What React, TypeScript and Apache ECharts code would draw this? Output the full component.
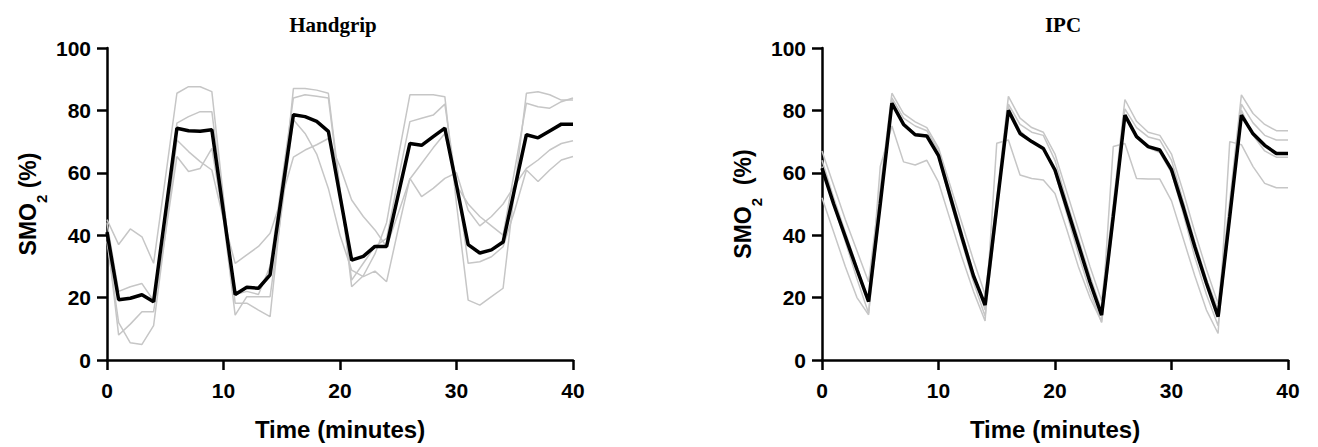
import React, { useEffect, useRef } from "react";
import * as echarts from "echarts";

const minutes = [0, 1, 2, 3, 4, 5, 6, 7, 8, 9, 10, 11, 12, 13, 14, 15, 16, 17, 18, 19, 20, 21, 22, 23, 24, 25, 26, 27, 28, 29, 30, 31, 32, 33, 34, 35, 36, 37, 38, 39, 40];
const xTicks = [0, 10, 20, 30, 40];
const yTicks = [0, 20, 40, 60, 80, 100];

// Handgrip — mean (black) and individual (grey) traces
const handgripMean = [41, 19.3, 19.8, 20.9, 18.7, 46.5, 74.3, 73.5, 73.3, 73.8, 47.4, 21, 23.3, 23, 27.3, 53, 78.6, 78, 76.5, 73.3, 52.6, 32, 33.2, 36.4, 36.4, 53, 69.4, 68.8, 71.6, 74.3, 56, 37, 34.3, 35.3, 37.8, 55, 72.2, 71.2, 73.4, 75.6, 75.6];
const handgripS1 = [45, 37, 42, 39.5, 31, 58, 85.5, 87.6, 87.6, 86, 52, 18.2, 18.2, 16, 13.9, 50, 87, 87, 86.5, 85.5, 55, 23.5, 27, 34, 44, 65, 85, 85, 85, 84.4, 50, 19.2, 17.6, 20.3, 23, 55, 85.5, 86, 85, 83.3, 83.3];
const handgripS2 = [44, 22, 23.5, 24.5, 19, 47, 75.9, 78, 79.6, 79.6, 50, 21, 22, 21, 30, 57, 84, 85, 84.5, 84, 54, 25.6, 31, 36.4, 39, 58, 76.4, 77.5, 78.5, 82, 56, 50, 46, 43, 40, 61, 82.3, 81.2, 80.7, 82.8, 84];
const handgripS3 = [40, 8, 11.5, 15.5, 15.5, 40, 65.2, 60.4, 61.4, 67.8, 45, 14.4, 20.3, 20.3, 20.3, 48, 77, 72.6, 66, 55, 40, 28.8, 26.7, 28.5, 25.1, 42, 58.2, 52.4, 55, 58.2, 60, 48, 43, 46, 50, 56, 61.4, 64.1, 67.3, 69.4, 70.3];
const handgripS4 = [38, 12, 5.5, 5, 11, 40, 70.5, 66.8, 63.6, 60.9, 45, 31, 33.7, 36.4, 40.6, 52, 65, 67.3, 69, 71, 62, 51.3, 46, 41.7, 36.3, 47, 58, 63, 68, 72.6, 58, 31, 31.5, 33.1, 36.3, 48, 60.9, 57.2, 60.9, 64.1, 65.2];

// IPC — mean (black) and individual (grey) traces
const ipcMean = [61.5, 50, 39.5, 29, 18.7, 50, 82.3, 75.5, 72.2, 71.8, 65.5, 52.5, 39.5, 27, 17.6, 49, 80, 72.6, 70, 67.8, 60.9, 49, 37, 25, 14.4, 46, 78.5, 71.6, 68.4, 67.3, 61, 49, 36.3, 24.6, 13.9, 46, 78.5, 72.5, 68.8, 66.2, 66.2];
const ipcS1 = [67, 56, 45, 35, 25, 55, 85.5, 79, 76.3, 74.5, 68, 56, 44, 32, 21, 52, 84.5, 77.5, 74.5, 73, 66, 54, 42, 30, 19, 50, 83.5, 76.5, 73, 72, 66, 54, 41, 29, 18, 51, 85, 79, 75.5, 73.5, 73.5];
const ipcS2 = [64, 52, 41, 30, 19, 51, 84, 77.5, 75, 73.5, 67, 54, 41, 28, 16, 49, 82, 75.5, 73, 72, 64, 51, 39, 27, 16, 48, 80.5, 74.5, 71.5, 70.5, 64, 51, 38, 26, 16, 48, 82, 76, 72, 70.5, 70.5];
const ipcS3 = [62, 50, 38, 26, 15, 49, 83, 76, 72.5, 72, 65, 51, 38, 25, 14, 47, 81, 73.5, 70, 68, 60, 47, 34, 22, 12, 44, 78, 72, 68, 66.5, 60, 47, 33, 21, 11, 45, 80, 72, 67, 65, 65];
const ipcS4 = [52, 41, 30, 20, 14.5, 62, 75, 63.5, 62.5, 64, 57, 45, 33, 22, 12.5, 69.5, 70.5, 59.3, 58.2, 57.7, 53.4, 42, 30, 20, 12.3, 68.4, 69.4, 58.2, 58, 58, 51, 39, 27, 16, 8.5, 70, 69, 62, 56.6, 55.2, 55.2];

const panels = [
  { title: "Handgrip", yName: "{a|SMO}{s|2}{a| (%)}", mean: handgripMean, subjects: [handgripS1, handgripS2, handgripS3, handgripS4] },
  { title: "IPC", yName: "{a|SMO}{s|2}{a|  (%)}", mean: ipcMean, subjects: [ipcS1, ipcS2, ipcS3, ipcS4] },
];

const FONT = "'Liberation Sans', Arial, sans-serif";

export default function App() {
  const ref = useRef<HTMLDivElement>(null);
  useEffect(() => {
    if (!ref.current) return;
    const chart = echarts.init(ref.current, null, { renderer: "svg" });
    const gridLefts = [107, 822];
    const titleX = [333, 1063];
    const toPairs = (vals: number[]) => minutes.map((t, i) => [t, vals[i]]);
    const series: any[] = [];
    panels.forEach((p, gi) => {
      p.subjects.forEach((s, si) => {
        series.push({
          type: "line",
          name: `${p.title} subject ${si + 1}`,
          xAxisIndex: gi,
          yAxisIndex: gi,
          data: toPairs(s),
          showSymbol: false,
          symbol: "none",
          lineStyle: { color: "#c6c6c6", width: 1.5 },
          z: 2,
        });
      });
      series.push({
        type: "line",
        name: `${p.title} mean`,
        xAxisIndex: gi,
        yAxisIndex: gi,
        data: toPairs(p.mean),
        showSymbol: false,
        symbol: "none",
        lineStyle: { color: "#000", width: 3.5 },
        z: 3,
      });
    });
    const axisCommon = {
      axisLine: { show: true, onZero: false, lineStyle: { color: "#000", width: 2.5 } },
      axisTick: { show: true, length: 10, lineStyle: { color: "#000", width: 2.5 } },
      splitLine: { show: false },
    };
    chart.setOption({
      animation: false,
      backgroundColor: "#fff",
      grid: gridLefts.map((l) => ({ left: l, top: 48, width: 466, height: 312 })),
      xAxis: panels.map((_, gi) => ({
        gridIndex: gi,
        type: "value",
        min: xTicks[0],
        max: xTicks[xTicks.length - 1],
        interval: xTicks[1] - xTicks[0],
        ...axisCommon,
        axisLabel: { margin: 20, fontSize: 21, fontWeight: "bold", color: "#000", fontFamily: FONT },
        name: "Time (minutes)",
        nameLocation: "middle",
        nameGap: 57,
        nameTextStyle: { fontSize: 24, fontWeight: "bold", color: "#000", fontFamily: FONT },
      })),
      yAxis: panels.map((p, gi) => ({
        gridIndex: gi,
        type: "value",
        min: yTicks[0],
        max: yTicks[yTicks.length - 1],
        interval: yTicks[1] - yTicks[0],
        ...axisCommon,
        axisLabel: { margin: 16, fontSize: 21, fontWeight: "bold", color: "#000", fontFamily: FONT },
        name: p.yName,
        nameLocation: "middle",
        nameRotate: 90,
        nameGap: 66,
        nameTextStyle: {
          color: "#000",
          rich: {
            a: { fontSize: 23, fontWeight: "bold", color: "#000", fontFamily: FONT, lineHeight: 26 },
            s: { fontSize: 15, fontWeight: "bold", color: "#000", fontFamily: FONT, lineHeight: 26, verticalAlign: "bottom", padding: [0, 0, -8, 0] },
          },
        },
      })),
      graphic: panels.map((p, gi) => ({
        type: "text",
        x: titleX[gi],
        y: 14,
        style: {
          text: p.title,
          fill: "#000",
          fontSize: 21,
          fontWeight: "bold",
          fontFamily: "'Liberation Serif', 'Times New Roman', serif",
          align: "center",
          verticalAlign: "top",
        },
      })),
      series,
    });
    return () => chart.dispose();
  }, []);
  return <div ref={ref} style={{ position: "absolute", left: 0, top: 0, width: 1318, height: 447 }} />;
}
